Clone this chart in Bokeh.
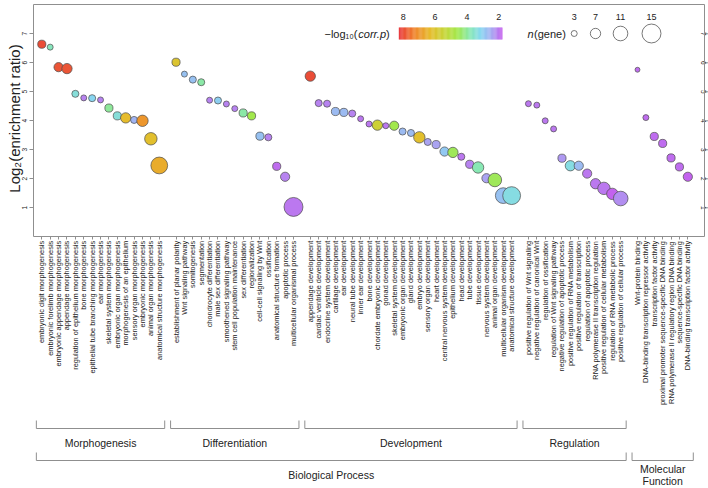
import math
from bokeh.plotting import figure
from bokeh.models import ColumnDataSource, Range1d, LinearAxis, FixedTicker
from bokeh.core.properties import value
from bokeh.embed import file_html
from bokeh.resources import INLINE

# ---------------- data ----------------
morph_terms = ["embryonic digit morphogenesis", "embryonic forelimb morphogenesis",
               "embryonic appendage morphogenesis", "appendage morphogenesis",
               "regulation of epithelium morphogenesis", "bone morphogenesis",
               "epithelial tube branching morphogenesis", "ear morphogenesis",
               "skeletal system morphogenesis", "embryonic organ morphogenesis",
               "morphogenesis of an epithelium", "sensory organ morphogenesis",
               "embryonic morphogenesis", "animal organ morphogenesis",
               "anatomical structure morphogenesis"]
morph_ratio = [6.64, 6.54, 5.85, 5.80, 4.93, 4.79, 4.78, 4.72, 4.44, 4.17, 4.10, 4.03, 4.00, 3.38, 2.46]
morph_logp = [8.0, 3.7, 7.9, 7.9, 3.4, 2.1, 3.1, 2.1, 4.0, 3.4, 6.3, 2.6, 7.0, 6.2, 6.6]
morph_n = [5, 3, 6, 7, 4, 3, 4, 3, 5, 5, 7, 4, 8, 9, 13]

diff_terms = ["establishment of planar polarity", "Wnt signaling pathway", "somitogenesis",
              "segmentation", "chondrocyte differentiation", "male sex differentiation",
              "smoothened signaling pathway", "stem cell population maintenance",
              "sex differentiation", "regionalization", "cell-cell signaling by Wnt",
              "ossification", "anatomical structure formation", "apoptotic process",
              "multicellular organismal process"]
diff_ratio = [6.02, 5.61, 5.42, 5.33, 4.71, 4.70, 4.58, 4.42, 4.27, 4.17, 3.47, 3.43, 2.43, 2.07, 1.03]
diff_logp = [6.0, 2.8, 2.8, 3.9, 2.1, 3.0, 2.1, 2.1, 3.9, 4.6, 2.8, 2.1, 1.9, 2.1, 2.0]
diff_n = [5, 3, 4, 4, 3, 4, 3, 3, 5, 5, 5, 4, 5, 6, 15]

dev_terms = ["appendage development", "cardiac ventricle development", "endocrine system development",
             "cartilage development", "ear development", "neural tube development",
             "inner ear development", "bone development", "chordate embryonic development",
             "gonad development", "skeletal system development", "embryonic organ development",
             "gland development", "embryo development", "sensory organ development",
             "heart development", "central nervous system development", "epithelium development",
             "head development", "tube development", "tissue development",
             "nervous system development", "animal organ development",
             "multicellular organism development", "anatomical structure development"]
dev_ratio = [5.54, 4.61, 4.59, 4.32, 4.29, 4.25, 4.07, 3.89, 3.85, 3.83, 3.83, 3.63, 3.58,
             3.43, 3.27, 3.18, 2.94, 2.91, 2.76, 2.50, 2.39, 2.02, 1.96, 1.42, 1.42]
dev_logp = [8.0, 2.1, 2.1, 2.7, 2.7, 2.1, 2.0, 2.0, 5.6, 2.0, 4.6, 2.7, 2.7, 6.2, 2.4, 2.4,
            2.9, 4.5, 2.0, 2.1, 3.8, 2.4, 4.5, 2.8, 3.3]
dev_n = [7, 4, 4, 5, 5, 4, 3, 3, 7, 3, 6, 4, 4, 8, 4, 5, 6, 7, 4, 5, 8, 6, 10, 12, 14]

reg_terms = ["positive regulation of Wnt signaling", "negative regulation of canonical Wnt",
             "regulation of ossification", "regulation of Wnt signaling pathway",
             "negative regulation of apoptotic process", "positive regulation of RNA metabolism",
             "positive regulation of transcription", "regulation of apoptotic process",
             "RNA polymerase II transcription regulation", "positive regulation of cellular metabolism",
             "regulation of RNA metabolic process", "positive regulation of cellular process"]
reg_ratio = [4.59, 4.54, 4.00, 3.72, 2.71, 2.45, 2.45, 2.18, 1.83, 1.67, 1.48, 1.32]
reg_logp = [2.0, 2.0, 2.0, 2.0, 2.3, 3.3, 2.7, 2.0, 2.0, 2.0, 1.8, 2.2]
reg_n = [3, 3, 3, 3, 5, 7, 6, 6, 7, 9, 8, 11]

mf_terms = ["Wnt-protein binding", "DNA-binding transcription repressor activity",
            "transcription factor activity", "proximal promoter sequence-specific DNA binding",
            "RNA polymerase II regulatory region DNA binding", "sequence-specific DNA binding",
            "DNA-binding transcription factor activity"]
mf_ratio = [5.76, 4.11, 3.46, 3.22, 2.72, 2.41, 2.07]
mf_logp = [1.9, 1.9, 1.9, 1.9, 1.9, 1.9, 1.8]
mf_n = [2, 3, 5, 5, 5, 5, 6]

subgroup_names = ["Morphogenesis", "Differentiation", "Development", "Regulation"]
top_groups = ["Biological Process", "Molecular\nFunction"]
y_ticks = [1, 2, 3, 4, 5, 6, 7]
cbar_ticks = [8, 6, 4, 2]
size_legend_n = [3, 7, 11, 15]

# ---------------- layout / style ----------------
W, H = 708, 488
SLOT = 8.39          # px per category slot
X0 = 41.3            # page x of slot 0
Y0 = 236.3           # page y of ratio 0
PPU = 29.0           # px per ratio unit
TOP = 8.0
AX_COL = "#8f8f8f"
TXT_COL = "#222222"
FONT = "Liberation Sans"

STOPS = [(8.28, "#E8363C"), (7.3, "#F0852C"), (6.3, "#E6BC2C"), (5.3, "#C2D83A"),
         (4.6, "#A2E84C"), (3.8, "#88E8B4"), (3.15, "#86D8F0"), (2.5, "#A6AEF2"),
         (1.78, "#C460EE")]
CB_HI, CB_LO = STOPS[0][0], STOPS[-1][0]


def hex2rgb(h):
    return tuple(int(h[i:i + 2], 16) for i in (1, 3, 5))


def color_of(v):
    v = min(max(v, CB_LO), CB_HI)
    for (v1, c1), (v2, c2) in zip(STOPS, STOPS[1:]):
        if v2 <= v <= v1:
            t = (v1 - v) / (v1 - v2)
            a, b = hex2rgb(c1), hex2rgb(c2)
            return "#%02x%02x%02x" % tuple(int(round(a[k] + (b[k] - a[k]) * t)) for k in range(3))
    return STOPS[-1][1]


def size_of(n):
    return 2.75 + 1.08 * n


groups = [(morph_terms, morph_ratio, morph_logp, morph_n),
          (diff_terms, diff_ratio, diff_logp, diff_n),
          (dev_terms, dev_ratio, dev_logp, dev_n),
          (reg_terms, reg_ratio, reg_logp, reg_n),
          (mf_terms, mf_ratio, mf_logp, mf_n)]

xs, ys, cols, sizes, terms, spans = [], [], [], [], [], []
pos = 0
for t, r, lp, n in groups:
    start = pos
    for k in range(len(t)):
        xs.append(pos)
        ys.append(r[k])
        cols.append(color_of(lp[k]))
        sizes.append(size_of(n[k]))
        terms.append(t[k])
        pos += 1
    spans.append((start, pos - 1))
    pos += 1  # blank slot between groups
last_slot = pos - 1
RIGHT = last_slot + 1


def px2slot(px):
    return (px - X0) / SLOT


x_range = Range1d(px2slot(0), px2slot(W))
y_range = Range1d((Y0 - H) / PPU, Y0 / PPU)

p = figure(width=W, height=H, x_range=x_range, y_range=y_range, output_backend="svg",
           toolbar_location=None, min_border=0, outline_line_color=None,
           background_fill_color="white", border_fill_color="white")
p.extra_x_ranges = {"pxx": Range1d(0, W)}
p.extra_y_ranges = {"px": Range1d(H, 0)}
p.grid.visible = False

# bottom axis with category labels
xa = p.xaxis[0]
xa.fixed_location = 0
xa.ticker = FixedTicker(ticks=xs)
xa.major_label_overrides = {x: t for x, t in zip(xs, terms)}
xa.major_label_orientation = math.pi / 2
xa.bounds = (-1, RIGHT)
xa.axis_line_color = AX_COL
xa.major_tick_line_color = AX_COL
xa.minor_tick_line_color = None
xa.major_tick_in = 0
xa.major_tick_out = 3
xa.major_label_standoff = 1
xa.major_label_text_font = FONT
xa.major_label_text_font_size = "7.4px"
xa.major_label_text_color = TXT_COL

# left axis
ya = p.yaxis[0]
ya.fixed_location = -1
ya.bounds = (0, TOP)
ya.ticker = FixedTicker(ticks=y_ticks)
ya.major_label_orientation = "parallel"
ya.axis_line_color = AX_COL
ya.major_tick_line_color = AX_COL
ya.minor_tick_line_color = None
ya.major_tick_in = 0
ya.major_tick_out = 4
ya.major_label_standoff = 2
ya.major_label_text_font = FONT
ya.major_label_text_font_size = "6.5px"
ya.major_label_text_color = TXT_COL

# right axis: line from the axis model, ticks and labels drawn explicitly so they fit the page
ra = LinearAxis(fixed_location=RIGHT, bounds=(0, TOP), ticker=FixedTicker(ticks=[]),
                axis_line_color=AX_COL, major_tick_line_color=None, minor_tick_line_color=None,
                major_label_text_font_size="6px")
p.add_layout(ra, "right")
p.segment(x0=[RIGHT] * len(y_ticks), x1=[RIGHT + 4 / SLOT] * len(y_ticks), y0=y_ticks, y1=y_ticks,
          line_color=AX_COL, line_width=1)
p.text(x=[703] * len(y_ticks), y=y_ticks, text=[str(t) for t in y_ticks], angle=-math.pi / 2,
       text_align="center", text_baseline="middle", text_font=value(FONT),
       text_font_size="6.5px", text_color=TXT_COL, x_range_name="pxx")

# top border
ta = LinearAxis(fixed_location=TOP, bounds=(-1, RIGHT), ticker=FixedTicker(ticks=[]),
                axis_line_color=AX_COL, major_tick_line_color=None, minor_tick_line_color=None,
                major_label_text_font_size="6px")
p.add_layout(ta, "above")

# points
src = ColumnDataSource(dict(x=xs, y=ys, c=cols, s=sizes))
p.scatter("x", "y", source=src, size="s", fill_color="c", line_color="#4a4a4a",
          line_width=0.7, marker="circle")

# y axis title
p.text(x=[13.5], y=[118], text=["Log\u2082(enrichment ratio)"], angle=math.pi / 2,
       text_align="center", text_baseline="alphabetic", text_font=value(FONT),
       text_font_size="15px", text_color=TXT_COL, x_range_name="pxx", y_range_name="px")

# brackets
def bracket(a, b, ytop, ybot):
    return [a - 0.65, a - 0.65, b + 0.65, b + 0.65], [ytop, ybot, ybot, ytop]

bx, by = [], []
for (a, b) in spans[:4]:
    xx, yy = bracket(a, b, 420, 428)
    bx.append(xx); by.append(yy)
xx, yy = bracket(spans[0][0], spans[3][1], 452, 460)
bx.append(xx); by.append(yy)
xx, yy = bracket(spans[4][0], spans[4][1], 452, 460)
bx.append(xx); by.append(yy)
p.multi_line(bx, by, line_color=AX_COL, line_width=1, y_range_name="px")

# group labels
gx = [(a + b) / 2 for (a, b) in spans[:4]]
p.text(x=gx, y=[442] * 4, text=subgroup_names, text_align="center", text_baseline="middle",
       text_font=value(FONT), text_font_size="10.5px", text_color=TXT_COL, y_range_name="px")
p.text(x=[(spans[0][0] + spans[3][1]) / 2], y=[474], text=[top_groups[0]], text_align="center",
       text_baseline="middle", text_font=value(FONT), text_font_size="10.5px",
       text_color=TXT_COL, y_range_name="px")
mfx = (spans[4][0] + spans[4][1]) / 2
mf_lines = top_groups[1].split("\n")
p.text(x=[mfx, mfx], y=[468, 480], text=mf_lines, text_align="center", text_baseline="middle",
       text_font=value(FONT), text_font_size="10.5px", text_color=TXT_COL, y_range_name="px")

# colour bar legend
CBX0, CBX1, CBY0, CBY1 = 398.3, 501.7, 27, 39
NSTRIP = 120
lefts, rights, scol = [], [], []
for k in range(NSTRIP):
    l = CBX0 + (CBX1 - CBX0) * k / NSTRIP
    r = CBX0 + (CBX1 - CBX0) * (k + 1) / NSTRIP
    v = CB_HI - (CB_HI - CB_LO) * (k + 0.5) / NSTRIP
    lefts.append(l); rights.append(r + 0.3); scol.append(color_of(v))
p.quad(left=lefts, right=rights, bottom=[CBY1] * NSTRIP, top=[CBY0] * NSTRIP, fill_color=scol,
       line_color=None, x_range_name="pxx", y_range_name="px")
cbx = [CBX0 + (CB_HI - t) / (CB_HI - CB_LO) * (CBX1 - CBX0) for t in cbar_ticks]
p.text(x=cbx, y=[16] * len(cbar_ticks), text=[str(t) for t in cbar_ticks], text_align="center",
       text_baseline="middle", text_font=value(FONT), text_font_size="9px", text_color=TXT_COL,
       x_range_name="pxx", y_range_name="px")
# -log10(corr.p)
p.text(x=[385.5], y=[33], text=[")"], text_align="left", text_baseline="middle",
       text_font=value(FONT), text_font_size="11px", text_color=TXT_COL,
       x_range_name="pxx", y_range_name="px")
p.text(x=[385.5], y=[33], text=["corr.p"], text_align="right", text_baseline="middle",
       text_font=value(FONT), text_font_size="11px", text_font_style="italic",
       text_color=TXT_COL, x_range_name="pxx", y_range_name="px")
p.text(x=[357], y=[33], text=["\u2212log\u2081\u2080("], text_align="right", text_baseline="middle",
       text_font=value(FONT), text_font_size="11px", text_color=TXT_COL,
       x_range_name="pxx", y_range_name="px")

# size legend
p.text(x=[527], y=[33], text=["n"], text_align="left", text_baseline="middle",
       text_font=value(FONT), text_font_size="11px", text_font_style="italic",
       text_color=TXT_COL, x_range_name="pxx", y_range_name="px")
p.text(x=[533.5], y=[33], text=["(gene)"], text_align="left", text_baseline="middle",
       text_font=value(FONT), text_font_size="11px", text_color=TXT_COL,
       x_range_name="pxx", y_range_name="px")
slx = [573.7, 595.0, 620.0, 651.0]
p.scatter(x=slx, y=[33] * 4, size=[size_of(n) for n in size_legend_n], fill_color="white",
          line_color="#555555", line_width=0.8, marker="circle",
          x_range_name="pxx", y_range_name="px")
p.text(x=slx, y=[16] * 4, text=[str(n) for n in size_legend_n], text_align="center",
       text_baseline="middle", text_font=value(FONT), text_font_size="9px", text_color=TXT_COL,
       x_range_name="pxx", y_range_name="px")

open("out.html", "w").write(file_html(p, INLINE))
